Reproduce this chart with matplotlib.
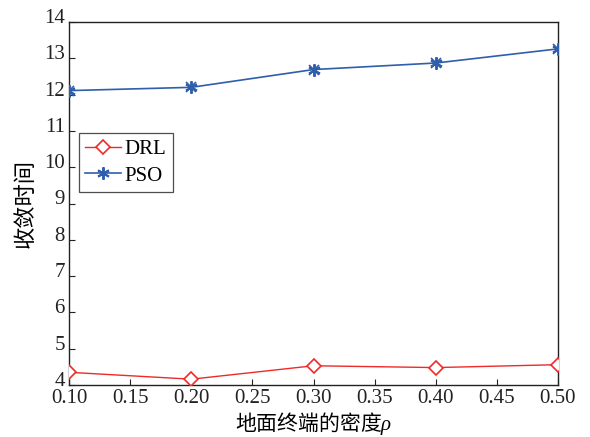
import matplotlib
matplotlib.use("Agg")
import matplotlib.pyplot as plt
import matplotlib.transforms as mtransforms

density = [0.10, 0.20, 0.30, 0.40, 0.50]
drl_time = [4.35, 4.16, 4.53, 4.48, 4.56]
pso_time = [12.11, 12.20, 12.69, 12.87, 13.26]
x_ticks = [0.10, 0.15, 0.20, 0.25, 0.30, 0.35, 0.40, 0.45, 0.50]
x_tick_labels = ["0.10", "0.15", "0.20", "0.25", "0.30", "0.35", "0.40", "0.45", "0.50"]
y_ticks = [4, 5, 6, 7, 8, 9, 10, 11, 12, 13, 14]

plt.rcParams["font.family"] = ["Liberation Serif", "Noto Sans CJK SC", "DejaVu Sans"]
plt.rcParams["mathtext.fontset"] = "custom"
plt.rcParams["mathtext.it"] = "Liberation Serif:italic"

fig = plt.figure(figsize=(5.9, 4.37), dpi=100)
ax = fig.add_axes([69 / 590, 1 - 385 / 437, (558 - 69) / 590, (385 - 22) / 437])

ax.plot(density, drl_time, color="#ee2a2a", lw=1.0, marker="D", ms=7,
        mfc="white", mec="#ee2a2a", mew=1.2, label="DRL", zorder=3)
ax.plot(density, pso_time, color="#2f5eaa", lw=1.2, marker=(6, 2, 0), ms=9,
        mec="#2f5eaa", mew=1.4, label="PSO", zorder=3)
# overlay an 'x' on the star markers for the asterisk look
ax.plot(density, pso_time, ls="none", marker="x", ms=7, mec="#2f5eaa", mew=1.2, zorder=3)

ax.set_xlim(0.10, 0.50)
ax.set_ylim(4, 14)
ax.set_xticks(x_ticks)
ax.set_xticklabels(x_tick_labels)
ax.set_yticks(y_ticks)
ax.tick_params(direction="in", length=4, width=0.8, labelsize=15, colors="#222222",
               top=False, right=False, pad=3)
for sp in ax.spines.values():
    sp.set_color("#222222")
    sp.set_linewidth(1.0)

# y tick labels sit slightly above their ticks
shift = mtransforms.ScaledTranslation(0, 0.06, fig.dpi_scale_trans)
for lbl in ax.get_yticklabels():
    lbl.set_transform(lbl.get_transform() + shift)

ax.set_xlabel("地面终端的密度$\\it{ρ}$", fontsize=15,
              family=["Noto Sans CJK SC", "Liberation Serif"], labelpad=1)
ax.set_ylabel("收敛时间", fontsize=16, family=["Noto Sans CJK SC"], labelpad=5)

leg = ax.legend(loc="upper left", bbox_to_anchor=(10 / 489, (385 - 133) / 363),
                fontsize=15, frameon=True, fancybox=False, edgecolor="#222222",
                handlelength=1.7, borderpad=0.3, labelspacing=0.35, handletextpad=0.2,
                borderaxespad=0)
leg.get_frame().set_linewidth(0.9)
fig.savefig("out.png", dpi=100)
